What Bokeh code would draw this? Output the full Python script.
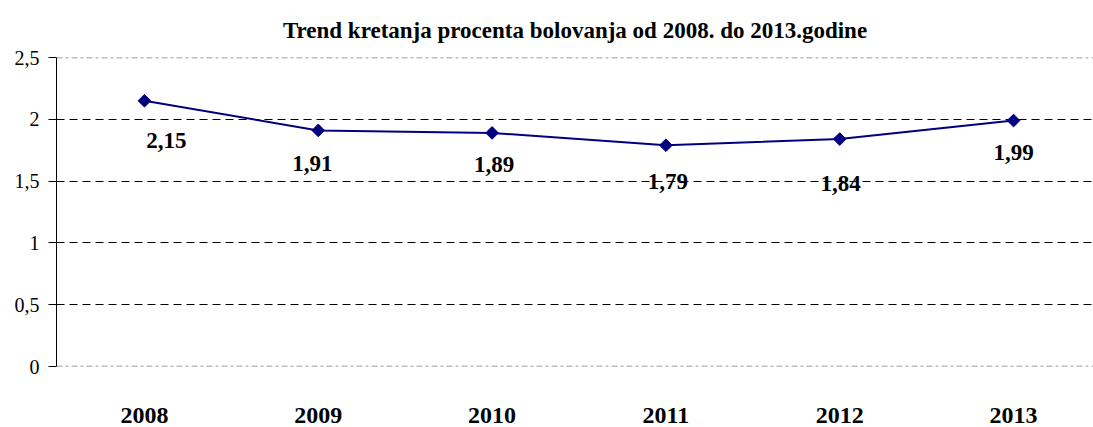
import math
from bokeh.plotting import figure
from bokeh.models import ColumnDataSource, FixedTicker, Span, CustomJSTickFormatter, Range1d
from bokeh.core.properties import value
from bokeh.embed import file_html
from bokeh.resources import INLINE

years = [2008, 2009, 2010, 2011, 2012, 2013]
year_labels = ["2008", "2009", "2010", "2011", "2012", "2013"]
percent = [2.15, 1.91, 1.89, 1.79, 1.84, 1.99]
percent_labels = ["2,15", "1,91", "1,89", "1,79", "1,84", "1,99"]
y_ticks = [0, 0.5, 1, 1.5, 2, 2.5]

# label offsets (styling, pixels)
label_dx = [22, -6, 2, 2, 1, 0]
label_dy = [40, 33, 32, 36, 44, 32]

SERIF = "Liberation Serif"
NAVY = "#000080"

p = figure(width=1093, height=427, output_backend="svg", toolbar_location=None,
           x_range=Range1d(2007.494, 2013.46), y_range=Range1d(0, 2.5),
           title="Trend kretanja procenta bolovanja od 2008. do 2013.godine",
           min_border_left=56, min_border_right=0, min_border_top=57, min_border_bottom=61)

p.title.align = "center"
p.title.text_font = SERIF
p.title.text_font_size = "23px"
p.title.text_font_style = "bold"
p.title.text_color = "black"
p.title.offset = 0
p.title.standoff = 30

p.outline_line_color = None
p.background_fill_color = "white"
p.border_fill_color = "white"

# grid
p.xgrid.grid_line_color = None
p.ygrid.ticker = FixedTicker(ticks=[0.5, 1, 1.5, 2])
p.ygrid.grid_line_color = "black"
p.ygrid.grid_line_dash = "8 5"
p.ygrid.grid_line_width = 1

for loc in [0, 2.5]:
    p.add_layout(Span(location=loc, dimension="width", line_color="#808080",
                      line_dash="6 3 3 3", line_width=1.5))

# y axis
p.yaxis.ticker = FixedTicker(ticks=y_ticks)
p.yaxis.formatter = CustomJSTickFormatter(code="return tick.toString().replace('.', ',');")
p.yaxis.axis_line_color = "black"
p.yaxis.major_tick_line_color = "black"
p.yaxis.major_tick_out = 8
p.yaxis.major_tick_in = 0
p.yaxis.minor_tick_line_color = None
p.yaxis.major_label_text_font = SERIF
p.yaxis.major_label_text_font_size = "20px"
p.yaxis.major_label_text_color = "black"
p.yaxis.major_label_standoff = 9

# x axis
p.xaxis.ticker = FixedTicker(ticks=years)
p.xaxis.major_label_overrides = {y: l for y, l in zip(years, year_labels)}
p.xaxis.axis_line_color = None
p.xaxis.major_tick_line_color = None
p.xaxis.minor_tick_line_color = None
p.xaxis.major_label_text_font = SERIF
p.xaxis.major_label_text_font_size = "24px"
p.xaxis.major_label_text_font_style = "bold"
p.xaxis.major_label_text_color = "black"
p.xaxis.major_label_standoff = 35

src = ColumnDataSource(dict(x=years, y=percent, lab=percent_labels, dx=label_dx, dy=label_dy))
p.line("x", "y", source=src, line_color=NAVY, line_width=2)
p.scatter("x", "y", source=src, marker="square", size=9, angle=math.pi / 4,
          fill_color=NAVY, line_color=NAVY)
p.text("x", "y", text="lab", source=src, x_offset="dx", y_offset="dy",
       text_font=value(SERIF), text_font_size="23px", text_font_style="bold",
       text_color="black", text_align="center", text_baseline="middle")

open("out.html", "w").write(file_html(p, INLINE))
